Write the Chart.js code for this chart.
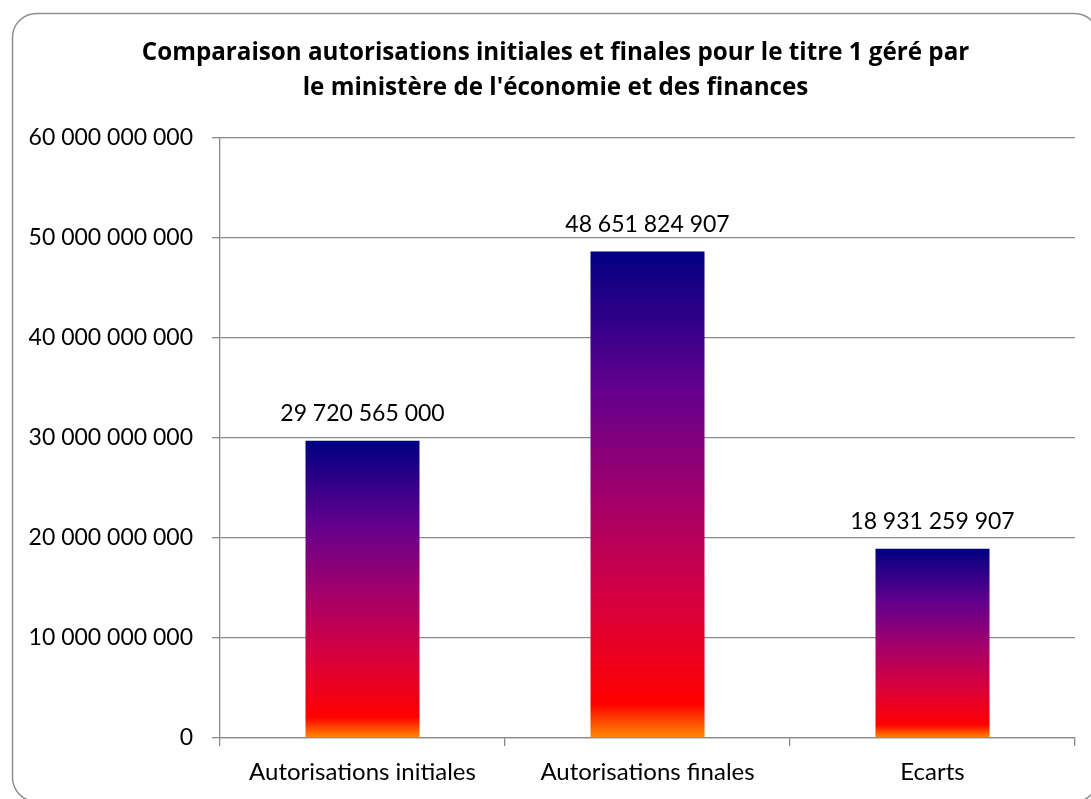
<!DOCTYPE html>
<html>
<head>
<meta charset="utf-8">
<script src="https://cdn.jsdelivr.net/npm/chart.js@4.4.1/dist/chart.umd.min.js"></script>
<style>
  html, body { margin: 0; padding: 0; background: #ffffff; }
  #wrap { width: 1091px; height: 799px; position: relative; }
</style>
</head>
<body>
<div id="wrap"><canvas id="c" width="1091" height="799"></canvas></div>
<script>
const titleLines = ["Comparaison autorisations initiales et finales pour le titre 1 géré par", "le ministère de l'économie et des finances"];
const categories = ["Autorisations initiales", "Autorisations finales", "Ecarts"];
const values = [29720565000, 48651824907, 18931259907];
const yTicks = [0, 10000000000, 20000000000, 30000000000, 40000000000, 50000000000, 60000000000];

const FONT = "Lato, 'Open Sans', sans-serif";
const TITLE_FONT = "'Open Sans', Lato, sans-serif";

function fmt(v) {
  return Math.round(v).toString().replace(/\B(?=(\d{3})+(?!\d))/g, " ");
}

const gradientStops = [
  [0.00, '#ff8c00'],
  [0.07, '#ff0000'],
  [0.28, '#d6003f'],
  [0.50, '#a0006c'],
  [0.72, '#62008e'],
  [1.00, '#000082']
];

function barGradient(ctx) {
  const chart = ctx.chart;
  const y = chart.scales && chart.scales.y;
  if (!y || ctx.type !== 'data' || !chart.chartArea) return '#800060';
  const top = y.getPixelForValue(ctx.raw);
  const bottom = y.getPixelForValue(0);
  const g = chart.ctx.createLinearGradient(0, bottom, 0, top);
  gradientStops.forEach(s => g.addColorStop(s[0], s[1]));
  return g;
}

const frame = {
  id: 'frame',
  beforeDraw(chart) {
    const c = chart.ctx;
    c.save();
    c.fillStyle = '#ffffff';
    c.fillRect(0, 0, chart.width, chart.height);
    const x = 12.5, y = 13.5, w = 1086, h = 788, r = 24;
    c.beginPath();
    c.moveTo(x + r, y);
    c.lineTo(x + w - r, y);
    c.arcTo(x + w, y, x + w, y + r, r);
    c.lineTo(x + w, y + h - r);
    c.arcTo(x + w, y + h, x + w - r, y + h, r);
    c.lineTo(x + r, y + h);
    c.arcTo(x, y + h, x, y + h - r, r);
    c.lineTo(x, y + r);
    c.arcTo(x, y, x + r, y, r);
    c.closePath();
    c.strokeStyle = '#8f8f8f';
    c.lineWidth = 1.5;
    c.stroke();
    // title
    c.font = "bold 24.2px " + TITLE_FONT;
    c.fillStyle = '#000000';
    c.textAlign = 'center';
    c.textBaseline = 'middle';
    c.fillText(titleLines[0], 555.5, 53);
    c.fillText(titleLines[1], 555.5, 88);
    c.restore();
  }
};

const dataLabels = {
  id: 'dataLabels',
  afterDatasetsDraw(chart) {
    const c = chart.ctx;
    const meta = chart.getDatasetMeta(0);
    c.save();
    c.font = "23px " + FONT;
    c.fillStyle = '#000000';
    c.textAlign = 'center';
    c.textBaseline = 'middle';
    meta.data.forEach((bar, i) => {
      c.fillText(fmt(values[i]), bar.x, bar.y - 27);
    });
    c.restore();
  }
};

new Chart(document.getElementById('c'), {
  type: 'bar',
  data: {
    labels: categories,
    datasets: [{
      data: values,
      backgroundColor: barGradient,
      borderWidth: 0,
      categoryPercentage: 1,
      barPercentage: 0.4
    }]
  },
  options: {
    responsive: false,
    animation: false,
    layout: { padding: { top: 138, right: 16, left: 0, bottom: 0 } },
    plugins: {
      legend: { display: false },
      tooltip: { enabled: false },
      title: { display: false }
    },
    scales: {
      x: {
        grid: {
          display: true,
          drawOnChartArea: false,
          drawTicks: true,
          tickLength: 8,
          offset: true,
          color: '#8a8a8a',
          lineWidth: 1.3
        },
        border: { display: true, color: '#8a8a8a', width: 1.3 },
        ticks: {
          color: '#000000',
          font: { family: FONT, size: 24 },
          padding: 12,
          maxRotation: 0
        },
        afterFit(scale) { scale.height = 61; }
      },
      y: {
        min: 0,
        max: 60000000000,
        afterBuildTicks(scale) { scale.ticks = yTicks.map(v => ({ value: v })); },
        grid: {
          color: '#8a8a8a',
          lineWidth: 1.3,
          drawTicks: true,
          tickLength: 8
        },
        border: { display: true, color: '#8a8a8a', width: 1.3 },
        ticks: {
          color: '#000000',
          font: { family: FONT, size: 23 },
          padding: 19,
          callback: (v) => fmt(v)
        },
        afterFit(scale) { scale.width = 220; }
      }
    }
  },
  plugins: [frame, dataLabels]
});
</script>
</body>
</html>
